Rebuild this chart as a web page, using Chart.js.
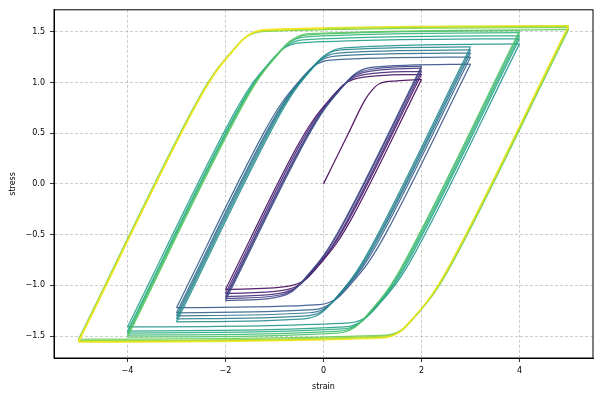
<!DOCTYPE html>
<html>
<head>
<meta charset="utf-8">
<script src="https://cdn.jsdelivr.net/npm/chart.js@4"></script>
<style>
  html, body { margin: 0; padding: 0; background: #fff; }
  #wrap { width: 601px; height: 401px; }
</style>
</head>
<body>
<div id="wrap"><canvas id="loopChart" width="601" height="401"></canvas></div>
<script>
// tick labels
const xTicks = [-4, -2, 0, 2, 4];
const yTicks = [-1.5, -1.0, -0.5, 0.0, 0.5, 1.0, 1.5];

// first loading from zero
const initLoading = [[0, 0], [0.5, 0.49], [0.85, 0.83], [1.0, 0.93], [1.15, 0.99], [1.5, 1.015], [2, 1.03]];

// strain amplitude 2 (down / up branches)
const amp2Branches = [
  [[2, 1.03], [0.61, -0.31], [0.26, -0.59], [-0.09, -0.80], [-0.39, -0.95], [-0.74, -1.01], [-2, -1.04]],
  [[-2, -1.04], [-0.56, 0.35], [-0.21, 0.63], [0.14, 0.84], [0.44, 0.99], [0.79, 1.05], [2, 1.08]],
  [[2, 1.08], [0.52, -0.35], [0.17, -0.63], [-0.18, -0.84], [-0.48, -0.99], [-0.83, -1.05], [-2, -1.08]],
  [[-2, -1.08], [-0.49, 0.38], [-0.14, 0.66], [0.21, 0.87], [0.51, 1.02], [0.86, 1.08], [2, 1.11]],
  [[2, 1.11], [0.46, -0.38], [0.11, -0.66], [-0.25, -0.87], [-0.55, -1.02], [-0.90, -1.08], [-2, -1.11]],
  [[-2, -1.11], [-0.42, 0.41], [-0.07, 0.69], [0.28, 0.90], [0.58, 1.05], [0.93, 1.11], [2, 1.14]],
  [[2, 1.14], [0.40, -0.40], [0.05, -0.68], [-0.30, -0.89], [-0.60, -1.04], [-0.95, -1.10], [-2, -1.13]],
  [[-2, -1.13], [-0.38, 0.43], [-0.03, 0.71], [0.32, 0.92], [0.62, 1.07], [0.97, 1.13], [2, 1.16]],
  [[2, 1.16], [0.36, -0.42], [0.01, -0.70], [-0.34, -0.91], [-0.64, -1.06], [-0.99, -1.12], [-2, -1.15]],
  [[-2, -1.15], [-0.34, 0.45], [0.01, 0.73], [0.36, 0.94], [0.66, 1.09], [1.01, 1.15], [3, 1.18]]
];

// strain amplitude 3
const amp3Branches = [
  [[3, 1.18], [1.27, -0.49], [0.92, -0.77], [0.57, -0.98], [0.27, -1.13], [-0.08, -1.19], [-3, -1.22]],
  [[-3, -1.22], [-1.2, 0.52], [-0.85, 0.80], [-0.5, 1.01], [-0.2, 1.16], [0.15, 1.22], [3, 1.25]],
  [[3, 1.25], [1.15, -0.54], [0.80, -0.82], [0.45, -1.03], [0.15, -1.18], [-0.20, -1.24], [-3, -1.27]],
  [[-3, -1.27], [-1.11, 0.56], [-0.76, 0.84], [-0.41, 1.05], [-0.11, 1.20], [0.24, 1.26], [3, 1.29]],
  [[3, 1.29], [1.08, -0.57], [0.73, -0.85], [0.38, -1.06], [0.08, -1.21], [-0.27, -1.27], [-3, -1.30]],
  [[-3, -1.30], [-1.05, 0.59], [-0.70, 0.87], [-0.35, 1.08], [-0.05, 1.23], [0.30, 1.29], [3, 1.32]],
  [[3, 1.32], [1.02, -0.60], [0.67, -0.88], [0.32, -1.09], [0.02, -1.24], [-0.33, -1.30], [-3, -1.33]],
  [[-3, -1.33], [-0.99, 0.62], [-0.64, 0.90], [-0.29, 1.11], [0.01, 1.26], [0.36, 1.32], [3, 1.35]],
  [[3, 1.35], [0.96, -0.63], [0.61, -0.91], [0.26, -1.12], [-0.04, -1.27], [-0.39, -1.33], [-3, -1.36]],
  [[-3, -1.36], [-0.94, 0.64], [-0.59, 0.92], [-0.24, 1.13], [0.07, 1.28], [0.42, 1.34], [4, 1.38]]
];

// strain amplitude 4
const amp4Branches = [
  [[4, 1.38], [1.88, -0.67], [1.53, -0.95], [1.18, -1.16], [0.88, -1.31], [0.53, -1.37], [-4, -1.41]],
  [[-4, -1.41], [-1.83, 0.69], [-1.48, 0.97], [-1.13, 1.18], [-0.83, 1.33], [-0.48, 1.39], [4, 1.43]],
  [[4, 1.43], [1.79, -0.71], [1.44, -0.99], [1.09, -1.20], [0.79, -1.35], [0.44, -1.41], [-4, -1.45]],
  [[-4, -1.45], [-1.76, 0.72], [-1.41, 1.00], [-1.06, 1.21], [-0.76, 1.36], [-0.41, 1.42], [4, 1.46]],
  [[4, 1.46], [1.74, -0.73], [1.39, -1.01], [1.04, -1.22], [0.74, -1.37], [0.39, -1.43], [-4, -1.47]],
  [[-4, -1.47], [-1.71, 0.75], [-1.36, 1.03], [-1.01, 1.24], [-0.71, 1.39], [-0.36, 1.45], [4, 1.49]],
  [[4, 1.49], [1.69, -0.75], [1.34, -1.03], [0.99, -1.24], [0.69, -1.39], [0.34, -1.45], [-4, -1.49]],
  [[-4, -1.49], [-1.67, 0.77], [-1.32, 1.05], [-0.97, 1.26], [-0.67, 1.41], [-0.32, 1.47], [4, 1.51]],
  [[4, 1.51], [1.65, -0.77], [1.30, -1.05], [0.95, -1.26], [0.65, -1.41], [0.30, -1.47], [-4, -1.51]],
  [[-4, -1.51], [-1.64, 0.78], [-1.29, 1.06], [-0.94, 1.27], [-0.64, 1.42], [-0.29, 1.48], [5, 1.52]]
];

// strain amplitude 5
const amp5Branches = [
  [[5, 1.52], [2.62, -0.79], [2.27, -1.07], [1.92, -1.28], [1.62, -1.43], [1.27, -1.49], [-5, -1.53]],
  [[-5, -1.53], [-2.60, 0.80], [-2.25, 1.08], [-1.90, 1.29], [-1.60, 1.44], [-1.25, 1.50], [5, 1.54]],
  [[5, 1.54], [2.58, -0.81], [2.23, -1.09], [1.88, -1.30], [1.58, -1.45], [1.23, -1.50], [-5, -1.545]],
  [[-5, -1.545], [-2.57, 0.81], [-2.22, 1.09], [-1.87, 1.30], [-1.57, 1.45], [-1.22, 1.51], [5, 1.55]],
  [[5, 1.55], [2.57, -0.81], [2.22, -1.09], [1.87, -1.30], [1.57, -1.45], [1.22, -1.51], [-5, -1.55]],
  [[-5, -1.55], [-2.56, 0.82], [-2.21, 1.10], [-1.86, 1.31], [-1.56, 1.46], [-1.21, 1.51], [5, 1.555]],
  [[5, 1.555], [2.56, -0.82], [2.21, -1.10], [1.86, -1.31], [1.56, -1.46], [1.21, -1.51], [-5, -1.555]],
  [[-5, -1.555], [-2.55, 0.82], [-2.20, 1.10], [-1.85, 1.31], [-1.55, 1.46], [-1.20, 1.52], [5, 1.56]],
  [[5, 1.56], [2.55, -0.82], [2.20, -1.10], [1.85, -1.31], [1.55, -1.46], [1.20, -1.52], [-5, -1.56]],
  [[-5, -1.56], [-2.55, 0.82], [-2.20, 1.10], [-1.85, 1.31], [-1.55, 1.46], [-1.20, 1.52], [0, 1.535]]
];

// viridis colour stops
const viridis = ["#440154", "#482475", "#414487", "#355f8d", "#2a788e", "#21918c",
                 "#22a884", "#44bf70", "#7ad151", "#bddf26", "#fde725"];

function hexToRgb(h) {
  return [parseInt(h.slice(1, 3), 16), parseInt(h.slice(3, 5), 16), parseInt(h.slice(5, 7), 16)];
}

function viridisColor(t, alpha) {
  const pos = t * (viridis.length - 1);
  const i = Math.min(Math.floor(pos), viridis.length - 2);
  const f = pos - i;
  const a = hexToRgb(viridis[i]);
  const b = hexToRgb(viridis[i + 1]);
  const c = a.map((v, k) => Math.round(v + (b[k] - v) * f));
  return `rgba(${c[0]}, ${c[1]}, ${c[2]}, ${alpha})`;
}

const allBranches = [initLoading].concat(amp2Branches, amp3Branches, amp4Branches, amp5Branches);

// later branches drawn on top (lower order = drawn last)
const datasets = allBranches.map((branch, i) => ({
  data: branch.map(p => ({ x: p[0], y: p[1] })),
  showLine: true,
  order: allBranches.length - i,
  borderColor: viridisColor(i / (allBranches.length - 1), 0.9),
  borderWidth: 1.25,
  pointRadius: 0,
  cubicInterpolationMode: "monotone",
  fill: false,
}));

// minus sign like matplotlib
function fmt(v, digits) {
  const s = Math.abs(v).toFixed(digits);
  return v < 0 ? "\u2212" + s : s;
}

// frame on all four sides
const framePlugin = {
  id: "frame",
  afterDatasetsDraw(chart) {
    const { ctx, chartArea: a } = chart;
    ctx.save();
    ctx.setLineDash([]);
    ctx.strokeStyle = "#000";
    ctx.lineWidth = 1;
    ctx.strokeRect(a.left, a.top, a.right - a.left, a.bottom - a.top);
    ctx.restore();
  },
};

const tickFont = { family: "DejaVu Sans", size: 8 };
const gridOpts = {
  color: "rgba(176, 176, 176, 0.8)",
  lineWidth: 0.8,
  tickColor: "#000",
  tickLength: 4,
  tickWidth: 0.8,
  tickBorderDash: [],
};
const borderOpts = { display: true, color: "#000", width: 1, dash: [3, 2] };

const ctx = document.getElementById("loopChart").getContext("2d");
new Chart(ctx, {
  type: "scatter",
  data: { datasets: datasets },
  options: {
    responsive: false,
    animation: false,
    layout: { padding: { left: 0, top: 9, right: 8, bottom: 0 } },
    plugins: { legend: { display: false }, tooltip: { enabled: false } },
    scales: {
      x: {
        type: "linear",
        min: -5.5,
        max: 5.5,
        afterBuildTicks: (s) => { s.ticks = xTicks.map(v => ({ value: v })); },
        afterFit: (s) => { s.height = 43; },
        ticks: { font: tickFont, color: "#000", padding: 4, maxRotation: 0, callback: (v) => fmt(v, 0) },
        grid: gridOpts,
        border: borderOpts,
        title: { display: true, text: "strain", font: tickFont, color: "#000", padding: { top: 2, bottom: 9 } },
      },
      y: {
        type: "linear",
        min: -1.716,
        max: 1.716,
        afterBuildTicks: (s) => { s.ticks = yTicks.map(v => ({ value: v })); },
        afterFit: (s) => { s.width = 54; },
        ticks: { font: tickFont, color: "#000", padding: 5, callback: (v) => fmt(v, 1) },
        grid: gridOpts,
        border: borderOpts,
        title: { display: true, text: "stress", font: tickFont, color: "#000", padding: { top: 8, bottom: 2 } },
      },
    },
  },
  plugins: [framePlugin],
});
</script>
</body>
</html>
